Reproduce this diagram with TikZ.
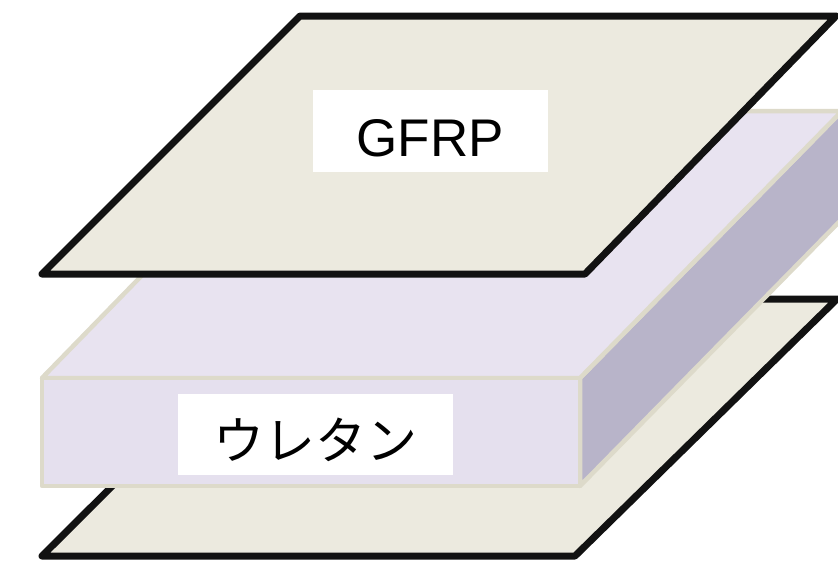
\documentclass[tikz,border=0pt]{standalone}
\usepackage{fontspec}
\setmainfont{Liberation Sans}
\newfontfamily\cjk{Noto Sans CJK JP}
\definecolor{plate}{RGB}{236,234,223}
\definecolor{foamtop}{RGB}{232,227,240}
\definecolor{foamfront}{RGB}{229,224,238}
\definecolor{foamside}{RGB}{184,180,201}
\definecolor{foamedge}{RGB}{221,218,202}
\tikzset{
  platebody/.style={fill=plate, draw=black!93, line width=7pt, line join=round},
  foambody/.style={draw=foamedge, line width=4.5pt, line join=round},
  tagbox/.style={fill=white, inner sep=0pt},
  tagtext/.style={inner sep=0pt, text=black}
}
\begin{document}
\begin{tikzpicture}[x=1pt,y=-1pt]
\useasboundingbox (0,0) rectangle (838,560);
% corner points of the three layers
\coordinate (b1) at (42,556);  \coordinate (b2) at (575,556);
\coordinate (b3) at (837,299); \coordinate (b4) at (300,299);
\coordinate (f1) at (42,378);  \coordinate (f2) at (580,378);
\coordinate (f3) at (580,486); \coordinate (f4) at (42,486);
\coordinate (k1) at (302,111); \coordinate (k2) at (842,111);
\coordinate (k3) at (842,219);
\coordinate (t1) at (42,274);  \coordinate (t2) at (585,274);
\coordinate (t3) at (836,16);  \coordinate (t4) at (300,16);
% lower GFRP sheet
\draw[platebody] (b1) -- (b2) -- (b3) -- (b4) -- cycle;
% urethane core
\draw[foambody, fill=foamside] (f2) -- (k2) -- (k3) -- (f3) -- cycle;
\draw[foambody, fill=foamtop] (f1) -- (f2) -- (k2) -- (k1) -- cycle;
\draw[foambody, fill=foamfront] (f1) -- (f2) -- (f3) -- (f4) -- cycle;
% upper GFRP sheet
\draw[platebody] (t1) -- (t2) -- (t3) -- (t4) -- cycle;
% labels
\node[tagbox, minimum width=235pt, minimum height=82pt] (gbox) at (430.5,131) {};
\node[tagtext, font=\fontsize{53}{60}\selectfont] (gtext) at (430,138) {GFRP};
\node[tagbox, minimum width=275pt, minimum height=81pt] (ubox) at (315.5,434.5) {};
\node[tagtext, font=\cjk\fontsize{51}{58}\selectfont] (utext) at (315.5,440) {ウレタン};
\end{tikzpicture}
\end{document}
